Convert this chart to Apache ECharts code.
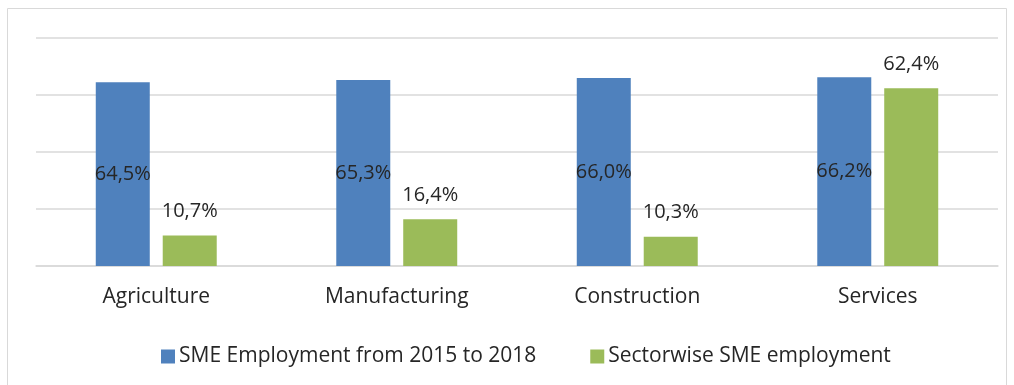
<!DOCTYPE html>
<html>
<head>
<meta charset="utf-8">
<script src="https://cdn.jsdelivr.net/npm/echarts@6/dist/echarts.min.js"></script>
<style>
  html, body { margin: 0; padding: 0; background: #fff; }
  #chart { width: 1014px; height: 385px; }
</style>
</head>
<body>
<div id="chart"></div>
<script>
// Sectors and employment shares (%)
const categories = ['Agriculture', 'Manufacturing', 'Construction', 'Services'];
const smeEmployment = [64.5, 65.3, 66.0, 66.2];
const sectorwiseEmployment = [10.7, 16.4, 10.3, 62.4];
const seriesNames = ['SME Employment from 2015 to 2018', 'Sectorwise SME employment'];

const FONT = '"Open Sans", "Noto Sans", sans-serif';
const TEXT = '#262626';
const fmt = p => p.value.toFixed(1).replace('.', ',') + '%';

const chart = echarts.init(document.getElementById('chart'), null, { renderer: 'canvas' });
chart.setOption({
  animation: false,
  textStyle: { fontFamily: FONT },
  graphic: [{
    type: 'rect',
    shape: { x: 7.5, y: 8.5, width: 999, height: 400 },
    style: { fill: 'none', stroke: '#d9d9d9', lineWidth: 1 },
    silent: true,
    z: -1
  }],
  grid: { left: 36, right: 16, top: 38, bottom: 119, containLabel: false },
  legend: {
    top: 341,
    left: 156,
    itemWidth: 14,
    itemHeight: 14,
    itemGap: 54,
    icon: 'rect',
    textStyle: { fontFamily: FONT, fontSize: 21, color: TEXT, padding: [0, 0, 0, -1] },
    data: seriesNames
  },
  xAxis: {
    type: 'category',
    data: categories,
    axisLine: { lineStyle: { color: '#d9d9d9', width: 1.5 } },
    axisTick: { show: false },
    axisLabel: { fontFamily: FONT, fontSize: 21, color: TEXT, margin: 21 }
  },
  yAxis: {
    type: 'value',
    min: 0,
    max: 80,
    interval: 20,
    axisLabel: { show: false },
    axisLine: { show: false },
    axisTick: { show: false },
    splitLine: { lineStyle: { color: '#d9d9d9', width: 1.5 } }
  },
  series: [
    {
      name: seriesNames[0],
      type: 'bar',
      data: smeEmployment,
      barWidth: 54,
      barGap: '24%',
      itemStyle: { color: '#4f81bd' },
      label: {
        show: true,
        position: 'inside',
        formatter: fmt,
        fontFamily: FONT,
        fontSize: 20,
        color: TEXT
      }
    },
    {
      name: seriesNames[1],
      type: 'bar',
      data: sectorwiseEmployment,
      barWidth: 54,
      barGap: '24%',
      itemStyle: { color: '#9bbb59' },
      label: {
        show: true,
        position: 'top',
        distance: 14,
        formatter: fmt,
        fontFamily: FONT,
        fontSize: 20,
        color: TEXT
      }
    }
  ]
});
</script>
</body>
</html>
